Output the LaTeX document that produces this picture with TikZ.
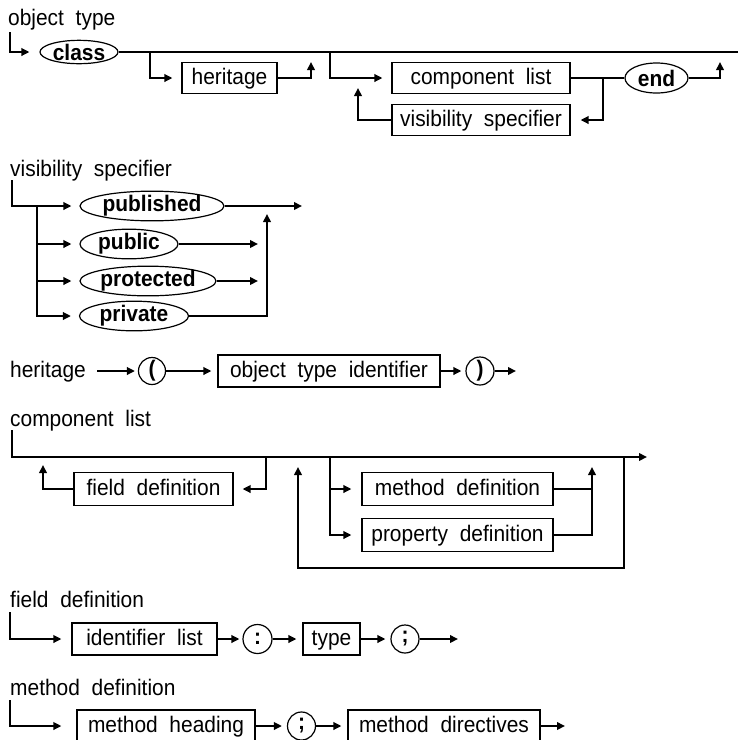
\documentclass[tikz,border=0pt]{standalone}
\usepackage{fontspec}
\setmainfont{Liberation Sans}[FakeStretch=0.93]
\usetikzlibrary{arrows.meta,shapes.geometric}
\newcommand\dfont{\fontsize{22.5}{26}\selectfont\spaceskip=11.7pt\relax}
\begin{document}
\begin{tikzpicture}[x=1pt,y=-1pt,
  font=\dfont,
  wire/.style={line width=2.1pt},
  arr/.style={wire,-{Triangle[length=8pt,width=7.5pt]}},
  gap/.style={shorten >=#1},
  nt/.style={draw,line width=1.2pt,inner sep=0pt,minimum height=32pt,text height=16.5pt,text depth=4pt},
  kw/.style={draw,ellipse,line width=1.2pt,inner sep=0pt,font=\dfont\bfseries},
  sym/.style={draw,circle,line width=1.2pt,inner sep=0pt,minimum size=28pt,font=\dfont\bfseries},
  title/.style={anchor=base west,inner sep=0pt}
]
\useasboundingbox (0,0) rectangle (738,740);

% ---------- object type ----------
\node[title] (tOT) at (8,25) {object type};
\node[kw,minimum width=78pt,minimum height=23pt] (cls) at (79,52) {class};
\node[nt,minimum width=95pt,minimum height=31pt] (her) at (229.5,78) {heritage};
\node[nt,minimum width=178pt,minimum height=31pt] (cl) at (481,78) {component list\hspace{15pt}};
\node[nt,minimum width=178pt,minimum height=31pt] (vs) at (481,120) {visibility specifier};
\node[kw,minimum width=63pt,minimum height=30pt] (endk) at (656.5,78) {end};

\coordinate (s0) at (10,32);
\coordinate (topR) at (745,52);
\coordinate (b1) at (150,52);
\coordinate (r1) at (311,62);
\coordinate (b2) at (330,52);
\coordinate (b3) at (603,78);
\coordinate (r2) at (358,88);
\coordinate (r3) at (720,62);

\draw[arr,gap=10pt] (s0) |- (cls.west);
\draw[wire] (cls.east) -- (topR);
\draw[arr,gap=9pt] (b1) |- (her.west);
\draw[arr] (her.east) -| (r1);
\draw[arr,gap=9pt] (b2) |- (cl.west);
\draw[wire] (cl.east) -- (endk.west);
\draw[arr,gap=10pt] (b3) |- (vs.east);
\draw[arr] (vs.west) -| (r2);
\draw[arr] (endk.east) -| (r3);

% ---------- visibility specifier ----------
\node[title] (tVS) at (10,176) {visibility specifier};
\node[kw,minimum width=144pt,minimum height=26pt] (pub) at (152,206) {published};
\node[kw,minimum width=98pt,minimum height=25pt] (pbl) at (129,244) {public};
\node[kw,minimum width=136pt,minimum height=27pt] (prt) at (148,281) {protected};
\node[kw,minimum width=109pt,minimum height=27pt] (prv) at (134,316) {private};

\coordinate (s1) at (12,180);
\coordinate (b4) at (37,206);
\coordinate (e1) at (302,206);
\coordinate (e2) at (258,244);
\coordinate (e3) at (258,281);
\coordinate (e4) at (267,214);

\draw[arr,gap=8pt] (s1) |- (pub.west);
\draw[arr,gap=8pt] (b4) |- (pbl.west);
\draw[arr,gap=8pt] (b4) |- (prt.west);
\draw[arr,gap=8pt] (b4) |- (prv.west);
\draw[arr] (pub.east) -- (e1);
\draw[arr] (pbl.east) -- (e2);
\draw[arr] (prt.east) -- (e3);
\draw[arr] (prv.east) -| (e4);

% ---------- heritage ----------
\node[title] (tHE) at (10,377) {heritage};
\node[sym,minimum size=27pt] (lp) at (152,371) {(};
\node[nt,minimum width=222pt] (oti) at (329,371) {object type identifier};
\node[sym] (rp) at (480,371) {)};

\coordinate (h0) at (97,371);
\coordinate (h1) at (516,371);

\draw[arr,gap=3pt] (h0) -- (lp.west);
\draw[arr,gap=6pt] (lp.east) -- (oti.west);
\draw[arr,gap=4pt] (oti.east) -- (rp.west);
\draw[arr] (rp.east) -- (h1);

% ---------- component list ----------
\node[title] (tCL) at (10,426) {component list};
\node[nt,minimum width=159pt,minimum height=33pt] (fd) at (153.5,489) {field definition};
\node[nt,minimum width=191pt,minimum height=33pt] (md) at (457.5,489) {method definition\hspace{10pt}};
\node[nt,minimum width=191pt,minimum height=33pt] (pd) at (457.5,535) {property definition};

\coordinate (s2) at (12,430);
\coordinate (c1) at (647,457);
\coordinate (c2) at (266,457);
\coordinate (c3) at (43,465);
\coordinate (c4) at (624,457);
\coordinate (c6) at (624,568);
\coordinate (c5) at (298,467);
\coordinate (c7) at (330,457);
\coordinate (c8) at (592,467);

\draw[arr] (s2) |- (c1);
\draw[arr,gap=9pt] (c2) |- (fd.east);
\draw[arr] (fd.west) -| (c3);
\draw[arr] (c4) -- (c6) -| (c5);
\draw[arr,gap=10pt] (c7) |- (md.west);
\draw[arr,gap=10pt] (c7) |- (pd.west);
\draw[wire] (md.east) -- (md.east -| c8);
\draw[arr] (pd.east) -| (c8);

% ---------- field definition ----------
\node[title] (tFD) at (10,607) {field definition};
\node[nt,minimum width=145pt] (il) at (144.5,639) {identifier list};
\node[sym,minimum size=29pt] (co) at (257.5,639) {:};
\node[nt,minimum width=57pt] (ty) at (331.5,639) {type};
\node[sym] (sc1) at (405,639) {;};

\coordinate (s3) at (10,612);
\coordinate (f1) at (458,639);

\draw[arr,gap=10pt] (s3) |- (il.west);
\draw[arr,gap=3pt] (il.east) -- (co.west);
\draw[arr,gap=6pt] (co.east) -- (ty.west);
\draw[arr,gap=5pt] (ty.east) -- (sc1.west);
\draw[arr] (sc1.east) -- (f1);

% ---------- method definition ----------
\node[title] (tMD) at (10,695) {method definition};
\node[nt,minimum width=178pt] (mh) at (166,726) {method heading};
\node[sym] (sc2) at (301.5,726) {;};
\node[nt,minimum width=192pt] (mdi) at (444,726) {method directives};

\coordinate (s4) at (10,700);
\coordinate (m1) at (565,726);

\draw[arr,gap=15pt] (s4) |- (mh.west);
\draw[arr,gap=5pt] (mh.east) -- (sc2.west);
\draw[arr,gap=6pt] (sc2.east) -- (mdi.west);
\draw[arr] (mdi.east) -- (m1);
\end{tikzpicture}
\end{document}
